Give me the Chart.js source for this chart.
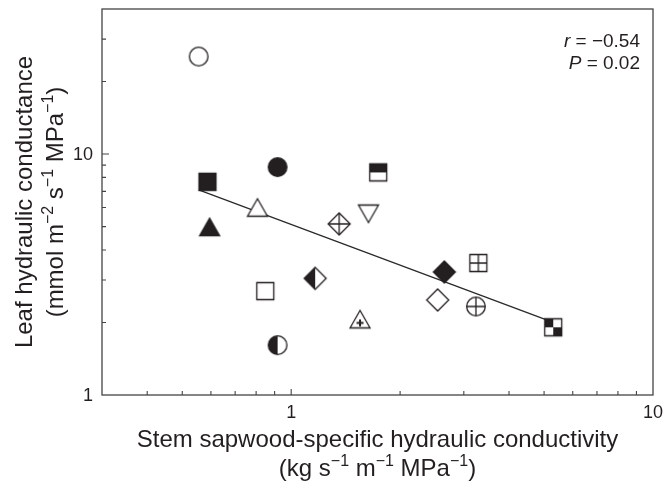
<!DOCTYPE html>
<html>
<head>
<meta charset="utf-8">
<script src="https://cdn.jsdelivr.net/npm/chart.js@4/dist/chart.umd.min.js"></script>
<style>
  html, body { margin: 0; padding: 0; background: #fff; }
</style>
</head>
<body>
<canvas id="myChart" width="665" height="484"></canvas>
<script>
// values (log-log axes)
const conductivity = [0.555, 0.917, 0.587, 1.74, 0.807, 1.635, 1.357, 0.595, 0.848, 1.165, 0.917, 2.65, 3.29, 2.54, 3.24, 1.55, 5.3];
const leafConductance = [25.4, 8.83, 7.67, 8.39, 5.93, 5.72, 5.13, 4.93, 2.70, 3.05, 1.61, 3.24, 3.53, 2.48, 2.33, 2.04, 1.91];
const symbols = ['openCircle', 'filledCircle', 'filledSquare', 'halfSquare', 'openTriUp', 'openTriDown', 'crossDiamond',
  'filledTriUp', 'openSquare', 'halfDiamond', 'halfCircle', 'filledDiamond', 'crossSquare', 'openDiamond',
  'crossCircle', 'plusTriangle', 'checkSquare'];
const fitX = [0.555, 5.3];
const fitY = [7.1, 2.0];
const xTicks = [0.3, 0.4, 0.5, 0.6, 0.7, 0.8, 0.9, 1, 2, 3, 4, 5, 6, 7, 8, 9, 10];
const yTicks = [1, 2, 3, 4, 5, 6, 7, 8, 9, 10, 20, 30, 40];
const xLabeled = [1, 10];
const yLabeled = [1, 10];
const statLines = [['r', ' = \u22120.54'], ['P', ' = 0.02']];

const INK = '#231f20';
const FONT = '"Liberation Sans", Arial, sans-serif';

function makeMarker(kind) {
  const S = 28;
  const c = document.createElement('canvas');
  c.width = S; c.height = S;
  const g = c.getContext('2d');
  g.translate(S / 2, S / 2);
  g.lineWidth = 1.3;
  g.strokeStyle = INK;
  g.fillStyle = '#fff';
  const circle = () => { g.beginPath(); g.arc(0, 0, 9.3, 0, Math.PI * 2); };
  const square = () => { g.beginPath(); g.rect(-8.5, -8.5, 17, 17); };
  const triUp = () => { g.beginPath(); g.moveTo(0, -10); g.lineTo(10, 7.5); g.lineTo(-10, 7.5); g.closePath(); };
  const triDown = () => { g.beginPath(); g.moveTo(0, 10); g.lineTo(10, -7.5); g.lineTo(-10, -7.5); g.closePath(); };
  const diamond = () => { g.beginPath(); g.moveTo(0, -11); g.lineTo(11, 0); g.lineTo(0, 11); g.lineTo(-11, 0); g.closePath(); };
  const cross = (h) => { g.beginPath(); g.moveTo(-h, 0); g.lineTo(h, 0); g.moveTo(0, -h); g.lineTo(0, h); g.stroke(); };
  switch (kind) {
    case 'openCircle': circle(); g.fill(); g.stroke(); break;
    case 'filledCircle': circle(); g.fillStyle = INK; g.fill(); g.stroke(); break;
    case 'filledSquare': square(); g.fillStyle = INK; g.fill(); g.stroke(); break;
    case 'openSquare': square(); g.fill(); g.stroke(); break;
    case 'halfSquare':
      square(); g.fill();
      g.fillStyle = INK; g.fillRect(-8.5, -8.5, 17, 8.5);
      square(); g.stroke(); break;
    case 'checkSquare':
      square(); g.fill();
      g.fillStyle = INK; g.fillRect(-8.5, -8.5, 8.5, 8.5); g.fillRect(0, 0, 8.5, 8.5);
      square(); g.stroke(); break;
    case 'crossSquare': square(); g.fill(); g.stroke(); cross(8.5); break;
    case 'openTriUp': triUp(); g.fill(); g.stroke(); break;
    case 'filledTriUp': triUp(); g.fillStyle = INK; g.fill(); g.stroke(); break;
    case 'openTriDown': triDown(); g.fill(); g.stroke(); break;
    case 'plusTriangle':
      triUp(); g.fill(); g.stroke();
      g.lineWidth = 2; g.beginPath();
      g.moveTo(-3.5, 2.5); g.lineTo(3.5, 2.5); g.moveTo(0, -1); g.lineTo(0, 6); g.stroke(); break;
    case 'openDiamond': diamond(); g.fill(); g.stroke(); break;
    case 'filledDiamond': diamond(); g.fillStyle = INK; g.fill(); g.stroke(); break;
    case 'crossDiamond': diamond(); g.fill(); g.stroke(); cross(11); break;
    case 'halfDiamond':
      diamond(); g.fill();
      g.beginPath(); g.moveTo(0, -11); g.lineTo(-11, 0); g.lineTo(0, 11); g.closePath();
      g.fillStyle = INK; g.fill();
      diamond(); g.stroke(); break;
    case 'halfCircle':
      circle(); g.fill();
      g.beginPath(); g.arc(0, 0, 9.3, Math.PI / 2, Math.PI * 1.5); g.closePath();
      g.fillStyle = INK; g.fill();
      circle(); g.stroke(); break;
    case 'crossCircle': circle(); g.fill(); g.stroke(); cross(9.3); break;
  }
  return c;
}

// text with superscript parts: [text, isSup]
function richWidth(ctx, parts, size) {
  let w = 0;
  parts.forEach(([t, sup]) => {
    ctx.font = (sup ? Math.round(size * 0.66) : size) + 'px ' + FONT;
    w += ctx.measureText(t).width;
  });
  return w;
}
function drawRich(ctx, parts, cx, baseline, size) {
  let x = cx - richWidth(ctx, parts, size) / 2;
  ctx.textAlign = 'left';
  ctx.textBaseline = 'alphabetic';
  parts.forEach(([t, sup]) => {
    ctx.font = (sup ? Math.round(size * 0.66) : size) + 'px ' + FONT;
    ctx.fillText(t, x, sup ? baseline - size * 0.4 : baseline);
    x += ctx.measureText(t).width;
  });
}

const xTitle = [[['Stem sapwood-specific hydraulic conductivity', 0]],
  [['(kg s', 0], ['\u22121', 1], [' m', 0], ['\u22121', 1], [' MPa', 0], ['\u22121', 1], [')', 0]]];
const yTitle = [[['Leaf hydraulic conductance', 0]],
  [['(mmol m', 0], ['\u22122', 1], [' s', 0], ['\u22121', 1], [' MPa', 0], ['\u22121', 1], [')', 0]]];

const framePlugin = {
  id: 'frame',
  afterDraw(chart) {
    const ctx = chart.ctx;
    const a = chart.chartArea;
    const xs = chart.scales.x, ys = chart.scales.y;
    ctx.save();
    ctx.strokeStyle = '#444';
    ctx.lineWidth = 1.3;
    ctx.strokeRect(a.left, a.top, a.right - a.left, a.bottom - a.top);
    // inward ticks
    ctx.lineWidth = 1.1;
    ctx.beginPath();
    xTicks.forEach(v => {
      if (v <= 0.3 || v >= 10) return;
      const px = xs.getPixelForValue(v);
      const len = xLabeled.includes(v) ? 6 : 4;
      ctx.moveTo(px, a.bottom); ctx.lineTo(px, a.bottom - len);
    });
    yTicks.forEach(v => {
      if (v <= 1 || v >= 40) return;
      const py = ys.getPixelForValue(v);
      const len = yLabeled.includes(v) ? 7 : 4;
      ctx.moveTo(a.left, py); ctx.lineTo(a.left + len, py);
    });
    ctx.stroke();
    // tick labels
    ctx.fillStyle = INK;
    ctx.font = '18px ' + FONT;
    ctx.textAlign = 'center';
    ctx.textBaseline = 'alphabetic';
    xLabeled.forEach(v => ctx.fillText(String(v), xs.getPixelForValue(v), a.bottom + 23));
    ctx.textAlign = 'right';
    ctx.textBaseline = 'middle';
    yLabeled.forEach(v => ctx.fillText(String(v), a.left - 9, ys.getPixelForValue(v) + 1));
    // axis titles
    const cx = (a.left + a.right) / 2;
    drawRich(ctx, xTitle[0], cx, 447, 24);
    drawRich(ctx, xTitle[1], cx, 476, 24);
    ctx.save();
    ctx.translate(0, (a.top + a.bottom) / 2);
    ctx.rotate(-Math.PI / 2);
    drawRich(ctx, yTitle[0], 0, 32, 24);
    drawRich(ctx, yTitle[1], 0, 63, 24);
    ctx.restore();
    // statistics
    ctx.textBaseline = 'alphabetic';
    statLines.forEach(([it, rest], i) => {
      const y = 47 + i * 22;
      ctx.font = '19px ' + FONT;
      const wr = ctx.measureText(rest).width;
      ctx.textAlign = 'right';
      ctx.fillText(rest, 640, y);
      ctx.font = 'italic 19px ' + FONT;
      ctx.fillText(it, 640 - wr, y);
    });
    ctx.restore();
  }
};

new Chart(document.getElementById('myChart'), {
  data: {
    datasets: [
      {
        type: 'line',
        data: fitX.map((x, i) => ({ x, y: fitY[i] })),
        borderColor: '#2a2a2a',
        borderWidth: 1.3,
        pointRadius: 0,
        fill: false,
        order: 2
      },
      {
        type: 'scatter',
        data: conductivity.map((x, i) => ({ x, y: leafConductance[i] })),
        pointStyle: symbols.map(makeMarker),
        order: 1
      }
    ]
  },
  options: {
    responsive: false,
    animation: false,
    layout: { padding: { top: 9, right: 12, left: 0, bottom: 0 } },
    plugins: { legend: { display: false }, tooltip: { enabled: false } },
    scales: {
      x: {
        type: 'logarithmic',
        min: 0.3, max: 10,
        grid: { display: false },
        border: { display: false },
        ticks: { display: false },
        afterFit: s => { s.height = 89; }
      },
      y: {
        type: 'logarithmic',
        min: 1, max: 40,
        grid: { display: false },
        border: { display: false },
        ticks: { display: false },
        afterFit: s => { s.width = 102; }
      }
    }
  },
  plugins: [framePlugin]
});
</script>
</body>
</html>
